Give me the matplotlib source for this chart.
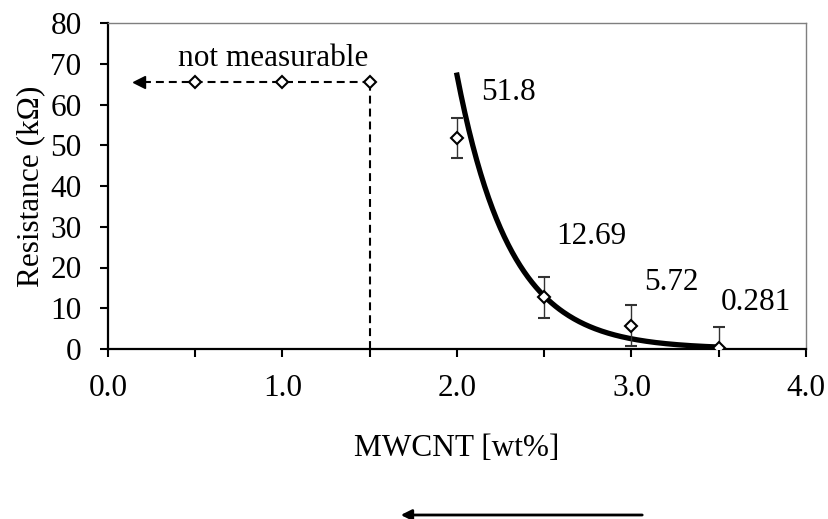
import numpy as np
import matplotlib
matplotlib.use('Agg')
import matplotlib.pyplot as plt

plt.rcParams['font.family'] = ['Liberation Serif', 'DejaVu Serif']

# measured points
mwcnt = [2.0, 2.5, 3.0, 3.5]
resistance = [51.8, 12.69, 5.72, 0.281]
err = [5.0, 5.0, 5.0, 5.0]
labels = ['51.8', '12.69', '5.72', '0.281']
label_pos = [(2.14, 63.0), (2.57, 27.5), (3.07, 16.2), (3.51, 11.5)]

# not measurable region
nm_x = [0.5, 1.0, 1.5]
nm_y = [65.6, 65.6, 65.6]
nm_arrow_tip = 0.15

FS = 22.5

'''Trendline esponenziale'''
slope, icpt = np.polyfit(mwcnt, np.log(resistance), 1)
xfit = np.linspace(2.0, 3.5, 200)
yfit = np.exp(icpt + slope * xfit)

fig = plt.figure(figsize=(8.29, 5.19), dpi=100)
ax = fig.add_axes([108 / 829, 1 - 349 / 519, 698 / 829, 326 / 519])

ax.plot(xfit, yfit, color='black', lw=3.8, zorder=3)
ax.errorbar(mwcnt, resistance, yerr=err, fmt='D', ms=6.5, mfc='white', mec='black',
            mew=1.5, ecolor='#333333', elinewidth=1.0, capsize=4.5, capthick=1.0,
            zorder=4)

# dashed "not measurable" lines
dash = (0, (3.8, 2.4))
ax.plot([nm_arrow_tip + 0.05] + nm_x, [nm_y[0]] + nm_y, ls=dash, color='black', lw=1.5, zorder=2)
ax.plot([nm_x[-1], nm_x[-1]], [0, nm_y[-1]], ls=dash, color='black', lw=1.5, zorder=2)
ax.plot(nm_x, nm_y, 'D', ms=6.5, mfc='white', mec='black', mew=1.5, ls='none', zorder=4)
ax.plot([nm_arrow_tip + 0.03], [nm_y[0]], marker='<', ms=8, color='black', ls='none')
ax.text(0.946, 71.2, 'not measurable', fontsize=FS, ha='center', va='center')

for t, (x, y) in zip(labels, label_pos):
    ax.text(x, y, t, fontsize=FS, ha='left', va='center')

ax.set_xlim(0, 4)
ax.set_ylim(0, 80)
ax.set_xticks(np.arange(0, 4.01, 1.0))
ax.set_xticks(np.arange(0.5, 4.0, 1.0), minor=True)
ax.set_xticklabels(['0.0', '1.0', '2.0', '3.0', '4.0'])
ax.set_yticks(np.arange(0, 81, 10))
ax.tick_params(which='both', labelsize=FS, direction='out', length=6, width=1.5, color='black')
ax.tick_params(axis='x', pad=12)
ax.tick_params(axis='y', pad=13)

for s in ['top', 'right']:
    ax.spines[s].set_color('#7f7f7f')
    ax.spines[s].set_linewidth(1.0)
for s in ['left', 'bottom']:
    ax.spines[s].set_color('black')
    ax.spines[s].set_linewidth(1.6)

ax.set_xlabel('MWCNT [wt%]', fontsize=FS, labelpad=22)
ax.set_ylabel('Resistance (kΩ)', fontsize=FS, labelpad=4)

# freccia in basso
fig.patches.append(matplotlib.patches.FancyArrowPatch(
    (645 / 829, 1 - 515 / 519), (398 / 829, 1 - 515 / 519), transform=fig.transFigure,
    arrowstyle='-|>', mutation_scale=16, lw=2, color='black'))

fig.savefig('out.png', dpi=100)
